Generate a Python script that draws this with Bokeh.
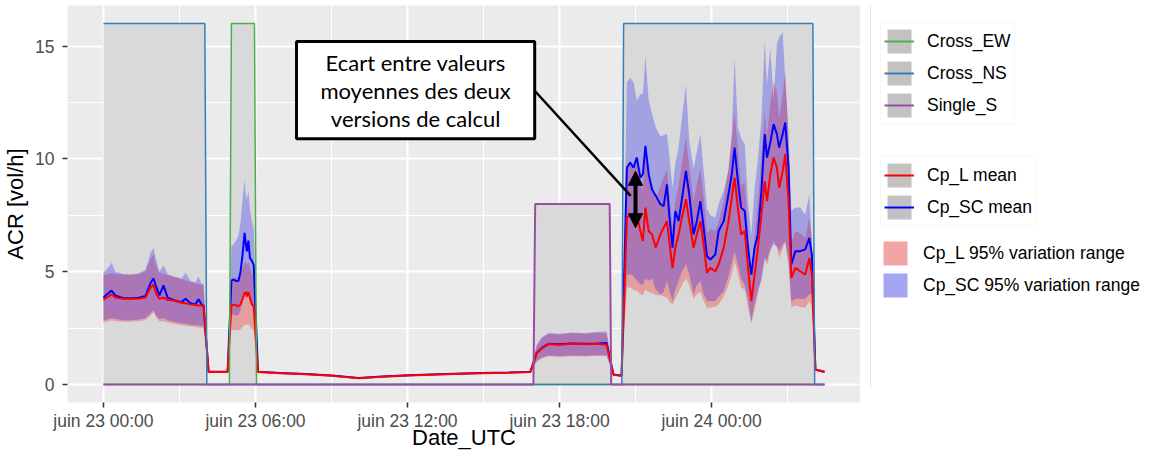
from bokeh.plotting import figure
from bokeh.models import (Range1d, FixedTicker, BoxAnnotation, Label, Arrow,
                          NormalHead, Legend, LegendItem, Span)
from bokeh.layouts import row
from bokeh.embed import file_html
from bokeh.resources import INLINE

# ---------------- data (hours since juin 23 00:00 UTC) ----------------
time_h = [0.00, 0.20, 0.32, 0.47, 0.79, 1.10, 1.38, 1.66, 1.86, 1.97, 2.09, 2.21, 2.37, 2.53,
          2.76, 3.08, 3.24, 3.43, 3.63, 3.75, 3.87, 3.95,
          4.15, 4.55, 4.90,
          5.05, 5.13, 5.25, 5.33, 5.41, 5.49, 5.57, 5.62, 5.66, 5.72, 5.78, 5.86, 5.93,
          6.10, 7.00, 8.00, 9.00, 10.07, 11.00, 12.04, 13.50, 14.90, 16.00, 16.85,
          17.10, 17.30, 17.57, 18.00, 18.50, 19.00, 19.50, 19.86, 20.13, 20.45,
          20.66, 20.79, 20.92, 21.05, 21.19, 21.29, 21.39, 21.52, 21.65, 21.80, 21.98, 22.11,
          22.24, 22.33, 22.46, 22.57, 22.70, 22.83, 22.99, 23.12, 23.29, 23.42, 23.56, 23.69,
          23.82, 23.95, 24.15, 24.28, 24.48, 24.67, 24.80, 24.91, 25.04, 25.17, 25.31, 25.44,
          25.57, 25.70, 25.83, 25.97, 26.10, 26.19, 26.32, 26.45, 26.58, 26.67, 26.81, 26.91,
          27.04, 27.15, 27.31, 27.50, 27.70, 27.86, 27.96, 28.10, 28.46]

cpl_mean = [3.76, 3.90, 4.00, 3.85, 3.80, 3.80, 3.80, 3.85, 4.30, 4.43, 4.00, 3.80, 3.85, 3.75,
            3.72, 3.62, 3.60, 3.55, 3.52, 3.50, 3.50, 3.48,
            0.55, 0.55, 0.55,
            3.50, 3.54, 3.50, 3.47, 3.55, 3.80, 4.05, 4.10, 3.90, 4.10, 3.85, 3.55, 3.45,
            0.55, 0.50, 0.45, 0.39, 0.28, 0.34, 0.40, 0.45, 0.50, 0.52, 0.55,
            1.39, 1.60, 1.79, 1.76, 1.80, 1.78, 1.80, 1.76, 0.43, 0.38,
            7.39, 7.54, 7.17, 7.54, 6.80, 6.36, 7.84, 6.80, 6.65, 6.06, 6.65, 6.95,
            7.24, 6.36, 5.17, 6.06, 6.65, 7.39, 8.21, 7.24, 6.06, 6.65, 7.24, 6.21,
            4.95, 5.17, 5.02, 5.32, 6.06, 7.24, 8.28, 9.17, 7.84, 6.65, 6.80, 5.17,
            3.69, 4.87, 6.06, 7.54, 9.02, 8.13, 9.32, 10.06, 9.61, 8.72, 9.47, 10.21,
            8.13, 4.72, 5.17, 5.02, 4.87, 5.61, 4.87, 0.65, 0.55]

cpsc_mean = [3.85, 4.05, 4.16, 3.95, 3.82, 3.82, 3.84, 3.92, 4.50, 4.70, 4.30, 3.95, 4.39, 3.85,
             3.75, 3.65, 3.80, 3.60, 3.55, 3.78, 3.55, 3.50,
             0.56, 0.56, 0.56,
             4.60, 4.65, 4.58, 4.60, 5.00, 5.76, 6.72, 6.20, 5.90, 6.38, 5.61, 5.47, 5.30,
             0.56, 0.51, 0.46, 0.40, 0.29, 0.35, 0.41, 0.46, 0.51, 0.53, 0.56,
             1.40, 1.62, 1.80, 1.78, 1.82, 1.80, 1.82, 1.84, 0.44, 0.39,
             9.61, 9.84, 9.61, 10.06, 9.17, 9.32, 10.58, 9.32, 8.65, 8.36, 7.99, 7.91,
             8.87, 7.54, 6.06, 7.69, 7.24, 8.20, 9.47, 8.43, 6.65, 7.24, 8.13, 6.95,
             5.69, 5.54, 5.76, 6.80, 7.24, 8.43, 9.32, 10.50, 9.02, 7.84, 7.69, 6.06,
             4.87, 6.06, 6.65, 8.58, 11.10, 10.06, 10.72, 11.54, 11.10, 10.50, 11.10, 11.61,
             9.61, 5.32, 5.91, 5.91, 5.99, 6.50, 5.76, 0.66, 0.56]

cpl_low = [2.75, 2.80, 2.85, 2.80, 2.78, 2.78, 2.80, 2.85, 3.05, 3.20, 2.95, 2.80, 2.80, 2.75,
           2.70, 2.62, 2.60, 2.58, 2.55, 2.52, 2.50, 2.50,
           0.53, 0.53, 0.53,
           2.40, 2.42, 2.40, 2.40, 2.45, 2.55, 2.65, 2.68, 2.62, 2.68, 2.58, 2.45, 2.40,
           0.53, 0.48, 0.43, 0.37, 0.27, 0.33, 0.38, 0.43, 0.48, 0.50, 0.53,
           1.00, 1.15, 1.25, 1.22, 1.25, 1.24, 1.26, 1.25, 0.41, 0.36,
           4.30, 4.30, 4.20, 4.15, 4.00, 3.95, 4.20, 4.10, 4.05, 3.95, 3.95, 3.90,
           3.85, 3.70, 3.54, 3.80, 4.10, 4.40, 4.72, 4.40, 3.80, 4.00, 4.10, 3.70,
           3.40, 3.40, 3.45, 3.55, 3.90, 4.40, 4.90, 5.47, 4.90, 4.30, 4.20, 3.40,
           2.70, 3.30, 4.00, 4.80, 5.60, 5.30, 5.90, 6.36, 6.10, 5.60, 6.00, 6.30,
           5.20, 3.40, 3.50, 3.45, 3.40, 3.70, 3.40, 0.62, 0.53]

cpl_high = [4.85, 4.90, 4.95, 4.90, 4.88, 4.88, 4.90, 5.00, 5.60, 5.75, 5.20, 4.95, 4.90, 4.85,
            4.78, 4.68, 4.62, 4.55, 4.48, 4.45, 4.42, 4.40,
            0.57, 0.57, 0.57,
            4.70, 4.75, 4.72, 4.75, 4.90, 5.15, 5.40, 5.45, 5.30, 5.45, 5.20, 4.90, 4.80,
            0.57, 0.52, 0.47, 0.41, 0.30, 0.36, 0.42, 0.47, 0.52, 0.54, 0.57,
            1.70, 2.05, 2.25, 2.22, 2.28, 2.25, 2.30, 2.26, 0.45, 0.40,
            9.60, 9.90, 9.50, 9.90, 9.10, 8.60, 10.30, 9.10, 8.90, 8.20, 8.80, 9.20,
            9.50, 8.50, 7.00, 8.10, 8.80, 9.80, 11.00, 9.70, 8.10, 8.90, 9.60, 8.30,
            6.70, 6.90, 6.80, 7.20, 8.10, 9.60, 10.90, 12.10, 10.40, 8.80, 9.00, 6.90,
            5.00, 6.50, 8.10, 10.10, 12.10, 11.00, 12.50, 13.40, 13.00, 11.80, 12.90, 13.90,
            11.00, 6.30, 6.80, 6.70, 6.50, 7.40, 6.50, 0.68, 0.57]

cpsc_low = [2.85, 2.90, 2.95, 2.90, 2.85, 2.85, 2.88, 2.95, 3.15, 3.30, 3.05, 2.90, 2.95, 2.85,
            2.78, 2.70, 2.70, 2.65, 2.62, 2.62, 2.60, 2.58,
            0.54, 0.54, 0.54,
            3.05, 3.10, 3.05, 3.10, 3.30, 3.70, 4.20, 4.00, 3.85, 4.10, 3.70, 3.60, 3.50,
            0.54, 0.49, 0.44, 0.38, 0.27, 0.33, 0.39, 0.44, 0.49, 0.51, 0.54,
            1.05, 1.20, 1.28, 1.25, 1.28, 1.27, 1.30, 1.30, 0.42, 0.37,
            4.85, 4.90, 4.80, 4.60, 4.45, 4.40, 4.70, 4.60, 4.70, 4.20, 4.00, 4.10,
            4.60, 4.20, 3.70, 4.20, 4.60, 5.00, 5.32, 4.90, 4.00, 4.40, 4.60, 4.00,
            3.69, 3.69, 3.70, 3.90, 4.13, 4.80, 5.40, 5.91, 5.30, 4.70, 4.40, 3.80,
            2.80, 3.60, 4.20, 4.58, 5.60, 5.50, 6.00, 6.21, 6.10, 5.90, 6.20, 6.36,
            5.50, 3.69, 3.80, 3.80, 3.80, 4.00, 4.00, 0.63, 0.54]

cpsc_high = [4.95, 5.20, 5.40, 5.00, 4.90, 4.88, 4.92, 5.10, 5.85, 6.05, 5.50, 5.00, 5.30, 4.90,
             4.80, 4.70, 4.95, 4.60, 4.52, 4.80, 4.48, 4.45,
             0.58, 0.58, 0.58,
             6.15, 6.20, 6.40, 6.60, 7.20, 8.20, 9.10, 8.40, 8.20, 8.60, 7.80, 7.20, 6.90,
             0.58, 0.53, 0.48, 0.42, 0.31, 0.37, 0.43, 0.48, 0.53, 0.55, 0.58,
             1.75, 2.10, 2.28, 2.25, 2.30, 2.28, 2.32, 2.35, 0.46, 0.41,
             13.40, 13.60, 13.40, 12.60, 12.85, 12.90, 14.55, 12.60, 12.00, 11.40, 11.00, 11.05,
             11.10, 10.20, 8.70, 9.80, 10.50, 11.80, 13.30, 10.80, 9.60, 10.30, 11.10, 9.50,
             7.80, 7.50, 7.40, 8.00, 8.60, 9.50, 11.10, 14.50, 11.40, 10.90, 10.65, 8.10,
             6.65, 8.70, 10.00, 11.84, 15.24, 13.30, 14.95, 12.58, 15.10, 15.40, 15.60, 13.50,
             11.10, 7.69, 7.84, 7.84, 7.54, 8.43, 6.10, 0.69, 0.58]

# status of the measurement configurations (value drawn as a box height)
ns_time = [0.00, 4.00, 4.08, 20.46, 20.53, 28.00, 28.07, 28.46]
ns_level = [16, 16, 0, 0, 16, 16, 0, 0]
ew_time = [0.00, 4.97, 5.05, 5.96, 6.04, 28.46]
ew_level = [0, 0, 16, 16, 0, 0]
s_time = [0.00, 16.97, 17.04, 19.98, 20.04, 28.46]
s_level = [0, 0, 8, 8, 0, 0]

x_ticks = [0, 6, 12, 18, 24]
x_minor = [3, 9, 15, 21, 27]
x_tick_labels = ["juin 23 00:00", "juin 23 06:00", "juin 23 12:00", "juin 23 18:00", "juin 24 00:00"]
y_ticks = [0, 5, 10, 15]
y_minor = [2.5, 7.5, 12.5]

note_lines = ["Ecart entre valeurs", "moyennes des deux", "versions de calcul"]

# ---------------- styling ----------------
C_EW = "#4DAF4A"
C_NS = "#377EB8"
C_S = "#984EA3"
BOX_FILL = "#D9D9D9"
KEY_GRAY = "#C2C2C2"
FONT = "Liberation Sans"

p = figure(frame_width=793, frame_height=397,
           x_range=Range1d(-1.42, 29.88), y_range=Range1d(-0.8, 16.8),
           toolbar_location=None, output_backend="svg",
           min_border_left=66, min_border_right=0, min_border_top=5, min_border_bottom=0,
           background_fill_color="#EBEBEB", border_fill_color="white",
           outline_line_color=None)

# grey boxes of each configuration
p.varea(x=ns_time, y1=0, y2=ns_level, fill_color=BOX_FILL)
p.varea(x=ew_time, y1=0, y2=ew_level, fill_color=BOX_FILL)
p.varea(x=s_time, y1=0, y2=s_level, fill_color=BOX_FILL)

# variation ranges
p.varea(x=time_h, y1=cpl_low, y2=cpl_high, fill_color="#FF0000", fill_alpha=0.27)
p.varea(x=time_h, y1=cpsc_low, y2=cpsc_high, fill_color="#0000FF", fill_alpha=0.25)

# means
p.line(time_h, cpsc_mean, line_color="#0000FF", line_width=2)
p.line(time_h, cpl_mean, line_color="#FF0000", line_width=2)

# configuration outlines
p.line(ew_time, ew_level, line_color=C_EW, line_width=1.5)
p.line(ns_time, ns_level, line_color=C_NS, line_width=1.5)
p.line(s_time, s_level, line_color=C_S, line_width=2)

# axes
for ax, ticks, minor in ((p.xaxis, x_ticks, x_minor), (p.yaxis, y_ticks, y_minor)):
    ax.ticker = FixedTicker(ticks=ticks, minor_ticks=minor)
    ax.axis_line_color = None
    ax.major_tick_line_color = "#333333"
    ax.major_tick_line_width = 1.5
    ax.major_tick_out = 5
    ax.major_tick_in = 0
    ax.minor_tick_line_color = None
    ax.major_label_text_color = "#4D4D4D"
    ax.major_label_text_font = FONT
    ax.major_label_text_font_size = "17.5px"
    ax.axis_label_text_font = FONT
    ax.axis_label_text_font_size = "22px"
    ax.axis_label_text_font_style = "normal"
    ax.axis_label_text_color = "black"

p.xaxis.major_label_overrides = {t: s for t, s in zip(x_ticks, x_tick_labels)}
p.xaxis.axis_label = "Date_UTC"
p.xaxis.major_label_standoff = 3
p.xaxis.axis_label_standoff = -9
p.yaxis.axis_label = "ACR [vol/h]"
p.yaxis.major_label_standoff = 8
p.yaxis.axis_label_standoff = 4

for g in (p.xgrid, p.ygrid):
    g.grid_line_color = "white"
    g.grid_line_width = 2
    g.minor_grid_line_color = "white"
    g.minor_grid_line_width = 1

# annotation
p.add_layout(BoxAnnotation(left=7.62, right=17.02, bottom=10.89, top=15.2,
                           fill_color="white", fill_alpha=1.0,
                           line_color="black", line_width=3, line_alpha=1.0))
for yy, txt in zip([14.27, 13.02, 11.78], note_lines):
    p.add_layout(Label(x=12.32, y=yy, text=txt, text_align="center", text_baseline="middle",
                       text_font="Lato", text_font_size="22px", text_color="black"))
p.add_layout(Arrow(end=None, x_start=17.02, y_start=13.02, x_end=20.81, y_end=8.36,
                   line_color="black", line_width=2.5))
p.add_layout(Arrow(start=NormalHead(size=14, fill_color="black", line_color="black"),
                   end=NormalHead(size=14, fill_color="black", line_color="black"),
                   x_start=21.0, y_start=6.95, x_end=21.0, y_end=9.45,
                   line_color="black", line_width=4))

# ---------------- legend panel (frame aligned with the main panel) ----------------
lp = figure(width=281, height=438, x_range=Range1d(0, 281), y_range=Range1d(0, 397),
            x_axis_type=None, y_axis_type=None,
            toolbar_location=None, output_backend="svg", min_border=0,
            background_fill_color="white", border_fill_color="white", outline_line_color=None)
lp.grid.visible = False
lp.add_layout(Span(location=10, dimension="height", line_color="#E6E6E6", line_width=1))

OFF = [-50]  # keys only: a point outside the visible legend panel

def gray_key():
    return lp.quad(left=OFF, right=[-40], top=OFF, bottom=[-60], fill_color=KEY_GRAY, line_color=None)

def line_key(c):
    return lp.line(x=[-50, -40], y=[-50, -50], line_color=c, line_width=2)

def fill_key(c):
    return lp.quad(left=OFF, right=[-40], top=OFF, bottom=[-60], fill_color=c, line_color=None)

common = dict(glyph_width=30, glyph_height=30, spacing=2, padding=3, margin=0,
              label_standoff=13, label_text_font=FONT, label_text_font_size="17.5px",
              label_text_color="black", background_fill_color="white",
              border_line_color="#EEEEEE", border_line_width=1)

leg1 = Legend(items=[LegendItem(label="Cross_EW", renderers=[gray_key(), line_key(C_EW)]),
                     LegendItem(label="Cross_NS", renderers=[gray_key(), line_key(C_NS)]),
                     LegendItem(label="Single_S", renderers=[gray_key(), line_key(C_S)])],
              location=(20, 264), **common)
leg2 = Legend(items=[LegendItem(label="Cp_L mean", renderers=[gray_key(), line_key("#FF0000")]),
                     LegendItem(label="Cp_SC mean", renderers=[gray_key(), line_key("#0000FF")])],
              location=(20, 162), **common)
leg3 = Legend(items=[LegendItem(label="Cp_L 95% variation range", renderers=[fill_key("#F2A5A5")]),
                     LegendItem(label="Cp_SC 95% variation range", renderers=[fill_key("#A5A5F2")])],
              location=(20, 88), **common)
leg3.border_line_color = None
for lg in (leg1, leg2, leg3):
    lp.add_layout(lg)

layout = row(p, lp)
open("out.html", "w").write(file_html(layout, INLINE))
